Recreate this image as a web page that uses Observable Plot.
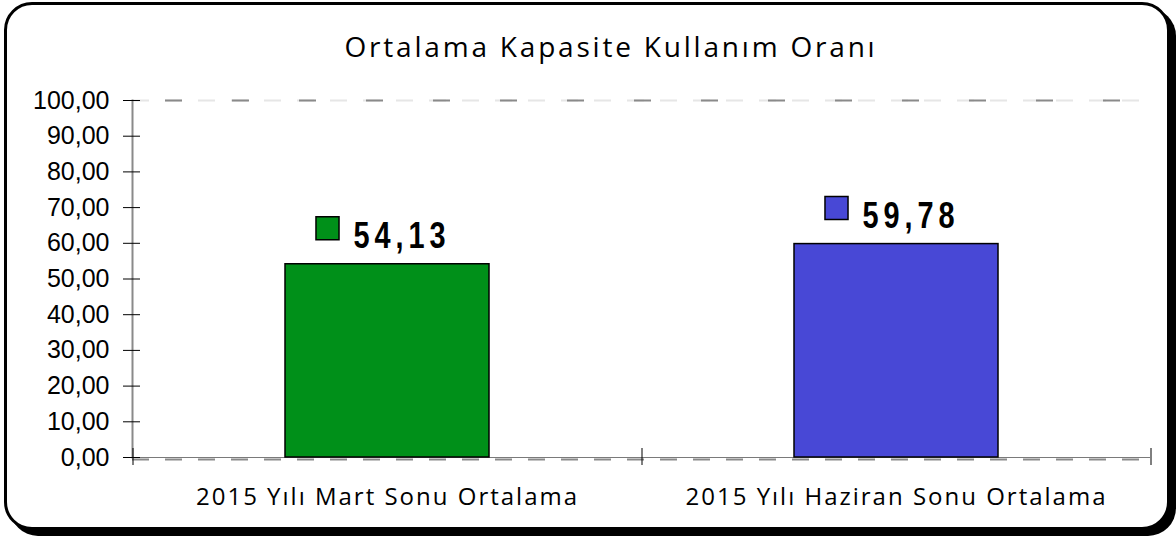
<!DOCTYPE html>
<html>
<head>
<meta charset="utf-8">
<script src="https://cdn.jsdelivr.net/npm/d3@7"></script>
<script src="https://cdn.jsdelivr.net/npm/@observablehq/plot@0.6"></script>
<style>
  html, body { margin: 0; padding: 0; background: #fff; }
  body { width: 1176px; height: 540px; position: relative; overflow: hidden; }
  #frame {
    position: absolute; left: 4px; top: 2px;
    width: 1160px; height: 522px;
    border: 3px solid #000; border-radius: 28px;
    box-shadow: 6px 6px 0 #000; background: #fff;
  }
  #title {
    position: absolute; left: 611px; top: 27px; transform: translateX(-50%);
    font-family: "Open Sans", sans-serif; font-size: 28px; letter-spacing: 2.8px;
    white-space: nowrap; color: #000; line-height: 38px;
  }
  #chart { position: absolute; left: 0; top: 0; }
  #chart svg { background: transparent; overflow: visible; }
  g[aria-label="x-axis tick label"] text { letter-spacing: 2px; }
</style>
</head>
<body>
<div id="frame"></div>
<div id="title">Ortalama Kapasite Kullanım Oranı</div>
<div id="chart"></div>
<script>
const categories = ["2015 Yılı Mart Sonu Ortalama", "2015 Yılı Haziran Sonu Ortalama"];
const values = [54.13, 59.78];
const colors = ["#009019", "#4848d6"];
const yTicks = [0, 10, 20, 30, 40, 50, 60, 70, 80, 90, 100];
const gridValues = [100];

const data = categories.map((c, i) => ({category: c, value: values[i], color: colors[i]}));
const fmt = v => v.toFixed(2).replace(".", ",");

const W = 1176, H = 540, ML = 132, MR = 26, MT = 100, MB = 83;
const step = (W - ML - MR) / categories.length;

const chart = Plot.plot({
  width: W, height: H,
  marginLeft: ML, marginRight: MR, marginTop: MT, marginBottom: MB,
  style: {background: "transparent", overflow: "visible"},
  x: {type: "band", domain: categories, paddingInner: 0.6, paddingOuter: 0.3, label: null},
  y: {domain: [0, 100], label: null},
  color: {type: "identity"},
  marks: [
    Plot.ruleY(gridValues, {stroke: "#e6e6e6", strokeWidth: 2, strokeDasharray: "17,16"}),
    Plot.ruleY(gridValues, {stroke: "#8a8a8a", strokeWidth: 2, strokeDasharray: "17,50", strokeDashoffset: -33}),
    Plot.ruleY([0], {stroke: "#7a7a7a", strokeWidth: 1}),
    Plot.ruleY([0], {stroke: "#8a8a8a", strokeWidth: 2, strokeDasharray: "17,16", dy: 2}),
    Plot.frame({anchor: "left", stroke: "#8a8a8a", strokeWidth: 2}),
    Plot.ruleX(categories, {x: d => d, y1: 0, y2: 0, dx: -step / 2, insetTop: -9, insetBottom: -8, stroke: "#000", strokeWidth: 1}),
    Plot.ruleX([categories[categories.length - 1]], {x: d => d, y1: 0, y2: 0, dx: step / 2, insetTop: -9, insetBottom: -8, stroke: "#000", strokeWidth: 1}),
    Plot.barY(data, {x: "category", y: "value", fill: "color", stroke: "#000", strokeWidth: 1.5}),
    Plot.axisY({ticks: yTicks, tickFormat: fmt, tickSize: 9, tickPadding: 14, fontSize: 25, fontFamily: "Liberation Sans, Arial, sans-serif", stroke: "#000", color: "#000"}),
    Plot.axisY({ticks: yTicks, tickFormat: () => "", tickSize: -8, stroke: "#000"}),
    Plot.axisX({tickSize: 0, tickPadding: 30, fontSize: 24, fontFamily: "Open Sans, sans-serif", color: "#000"}),
    Plot.dot(data, {x: "category", y: "value", symbol: "square", r: 13, fill: "color", stroke: "#000", strokeWidth: 1.5, dx: -60, dy: -36}),
    Plot.text(data, {x: "category", y: "value", text: d => fmt(d.value), textAnchor: "start", lineAnchor: "bottom", dx: -34, dy: -16, fontSize: 37, fontWeight: "bold", fontFamily: "Liberation Sans, Arial, sans-serif", fill: "#000"})
  ]
});
// narrow, spaced bold value labels (Arial Narrow look)
chart.querySelectorAll('g[aria-label="text"] text').forEach(t => {
  t.style.letterSpacing = "6.4px";
  const tr = t.getAttribute("transform");
  if (tr) {
    t.setAttribute("transform", tr + " scale(0.78,1)");
  } else {
    const x = +t.getAttribute("x") || 0, y = +t.getAttribute("y") || 0;
    t.removeAttribute("x"); t.removeAttribute("y");
    t.setAttribute("transform", `translate(${x},${y}) scale(0.78,1)`);
  }
});
document.getElementById("chart").appendChild(chart);
</script>
</body>
</html>
